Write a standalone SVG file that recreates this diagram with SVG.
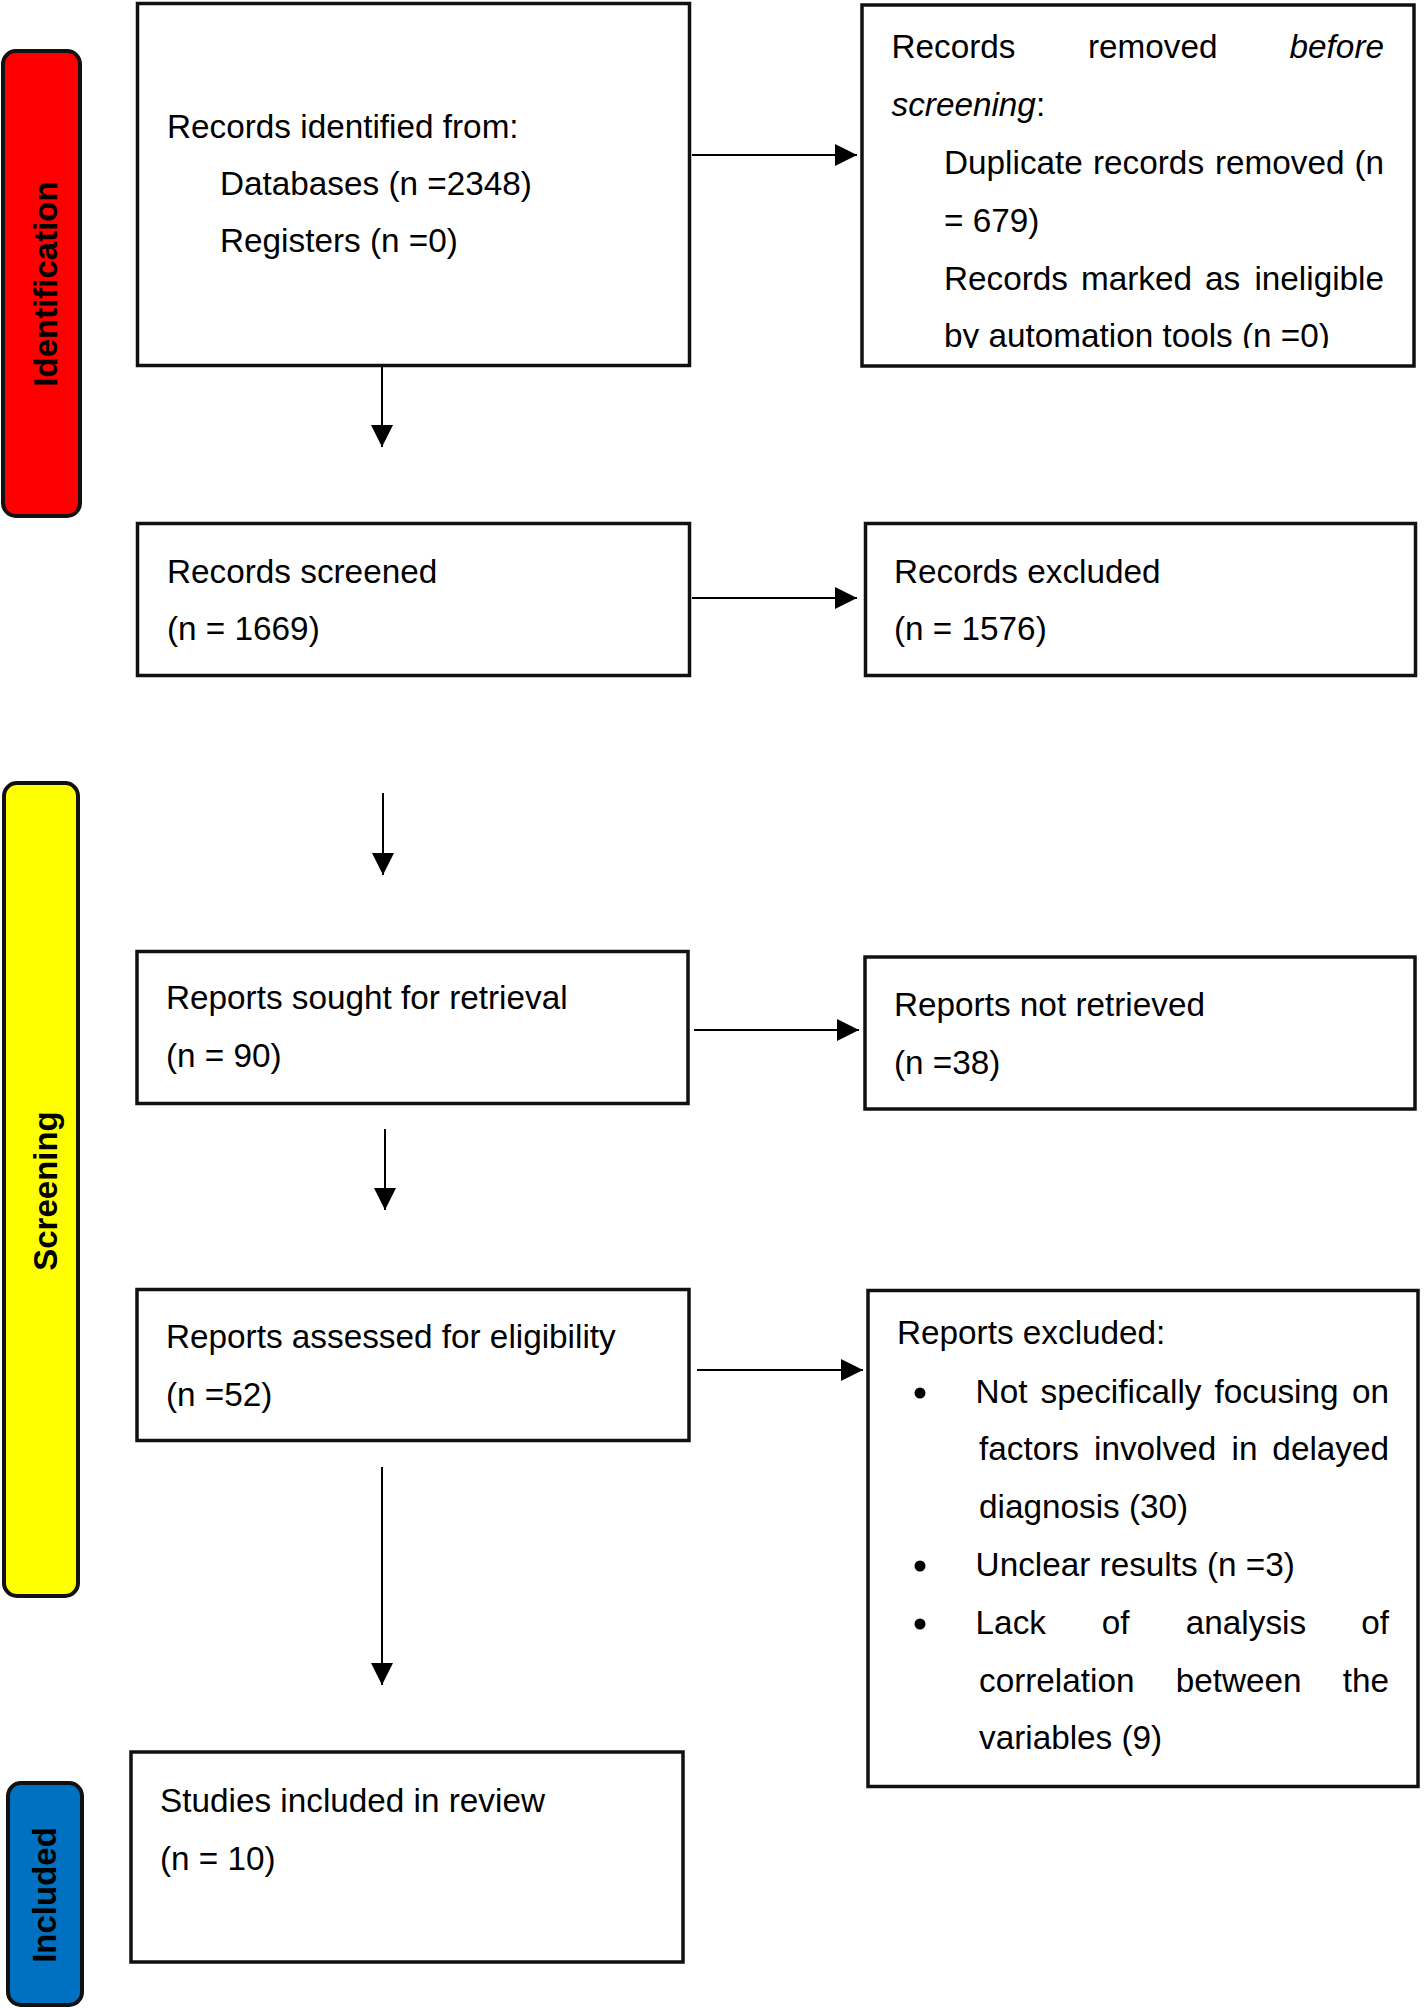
<svg xmlns="http://www.w3.org/2000/svg" width="1425" height="2008" viewBox="0 0 1425 2008">
<style>
text { font-family: "Liberation Sans", Arial, sans-serif; font-size: 33.3px; fill: #000; }
.box { fill: #fff; stroke: #111; stroke-width: 3.5; }
.bar { stroke: #111; stroke-width: 4; }
.lbl { font-weight: bold; font-size: 33px; text-anchor: middle; }
.conn { stroke: #000; stroke-width: 2; fill: none; }
.it { font-style: italic; }
</style>
<defs>
<marker id="ah" markerUnits="userSpaceOnUse" markerWidth="24" markerHeight="24" refX="22" refY="11" orient="auto">
<polygon points="0,0 22,11 0,22" fill="#000"/>
</marker>
<clipPath id="clipB2"><rect x="862" y="5" width="552" height="343"/></clipPath>
</defs>
<rect width="1425" height="2008" fill="#fff"/>

<g id="phase-identification">
<rect class="bar" x="3" y="51" width="77" height="465" rx="13" fill="#FF0000"/>
<text class="lbl" transform="translate(57,284) rotate(-90)">Identification</text>
</g>
<g id="phase-screening">
<rect class="bar" x="4" y="783" width="74" height="813" rx="13" fill="#FFFF00"/>
<text class="lbl" transform="translate(57,1191) rotate(-90)">Screening</text>
</g>
<g id="phase-included">
<rect class="bar" x="8" y="1783" width="74" height="222" rx="13" fill="#0070C0"/>
<text class="lbl" transform="translate(56,1895) rotate(-90)">Included</text>
</g>

<g id="connectors">
<line class="conn" x1="692" y1="155" x2="857" y2="155" marker-end="url(#ah)"/>
<line class="conn" x1="382" y1="367" x2="382" y2="447" marker-end="url(#ah)"/>
<line class="conn" x1="692" y1="598" x2="857" y2="598" marker-end="url(#ah)"/>
<line class="conn" x1="383" y1="793" x2="383" y2="875" marker-end="url(#ah)"/>
<line class="conn" x1="694" y1="1030" x2="859" y2="1030" marker-end="url(#ah)"/>
<line class="conn" x1="385" y1="1129" x2="385" y2="1210" marker-end="url(#ah)"/>
<line class="conn" x1="697" y1="1370" x2="863" y2="1370" marker-end="url(#ah)"/>
<line class="conn" x1="382" y1="1467" x2="382" y2="1685" marker-end="url(#ah)"/>
</g>

<g id="records-identified">
<rect class="box" x="137.5" y="3.5" width="552" height="362"/>
<text x="167" y="138">Records identified from:</text>
<text x="220" y="195">Databases (n =2348)</text>
<text x="220" y="252">Registers (n =0)</text>
</g>

<g id="records-removed">
<rect class="box" x="862" y="5" width="552" height="361"/>
<text x="891.5" y="58">Records</text>
<text x="1088" y="58">removed</text>
<text x="1384" y="58" class="it" text-anchor="end">before</text>
<text x="891.5" y="116"><tspan class="it">screening</tspan>:</text>
<text x="944" y="174">Duplicate</text>
<text x="1093" y="174">records</text>
<text x="1215" y="174">removed</text>
<text x="1384" y="174" text-anchor="end">(n</text>
<text x="944" y="232">= 679)</text>
<text x="944" y="290">Records</text>
<text x="1081" y="290">marked</text>
<text x="1205" y="290">as</text>
<text x="1384" y="290" text-anchor="end">ineligible</text>
<text x="944" y="347" clip-path="url(#clipB2)">by automation tools (n =0)</text>
</g>

<g id="records-screened">
<rect class="box" x="137.5" y="523.5" width="552" height="152"/>
<text x="167" y="583">Records screened</text>
<text x="167" y="640">(n = 1669)</text>
</g>

<g id="records-excluded">
<rect class="box" x="865.5" y="523.5" width="550" height="152"/>
<text x="894" y="583">Records excluded</text>
<text x="894" y="640">(n = 1576)</text>
</g>

<g id="reports-sought">
<rect class="box" x="137" y="951.5" width="551" height="152"/>
<text x="166" y="1009">Reports sought for retrieval</text>
<text x="166" y="1067">(n = 90)</text>
</g>

<g id="reports-not-retrieved">
<rect class="box" x="865" y="957" width="550" height="152"/>
<text x="894" y="1016">Reports not retrieved</text>
<text x="894" y="1074">(n =38)</text>
</g>

<g id="reports-assessed">
<rect class="box" x="137" y="1289.5" width="552" height="151"/>
<text x="166" y="1348">Reports assessed for eligibility</text>
<text x="166" y="1406">(n =52)</text>
</g>

<g id="reports-excluded">
<rect class="box" x="868" y="1290.5" width="550" height="496"/>
<text x="897" y="1344">Reports excluded:</text>
<circle cx="920" cy="1393" r="5.5" fill="#000"/>
<circle cx="920" cy="1566" r="5.5" fill="#000"/>
<circle cx="920" cy="1624" r="5.5" fill="#000"/>
<text x="975.6" y="1403">Not</text>
<text x="1040.5" y="1403">specifically</text>
<text x="1214.5" y="1403">focusing</text>
<text x="1389" y="1403" text-anchor="end">on</text>
<text x="979" y="1460">factors</text>
<text x="1094" y="1460">involved</text>
<text x="1231.5" y="1460">in</text>
<text x="1389" y="1460" text-anchor="end">delayed</text>
<text x="979" y="1518">diagnosis (30)</text>
<text x="975.6" y="1576">Unclear results (n =3)</text>
<text x="975.6" y="1634">Lack</text>
<text x="1101.8" y="1634">of</text>
<text x="1185.8" y="1634">analysis</text>
<text x="1389" y="1634" text-anchor="end">of</text>
<text x="979" y="1692">correlation</text>
<text x="1175.7" y="1692">between</text>
<text x="1389" y="1692" text-anchor="end">the</text>
<text x="979" y="1749">variables (9)</text>
</g>

<g id="studies-included">
<rect class="box" x="131" y="1752" width="552" height="210"/>
<text x="160" y="1812">Studies included in review</text>
<text x="160" y="1870">(n = 10)</text>
</g>
</svg>
